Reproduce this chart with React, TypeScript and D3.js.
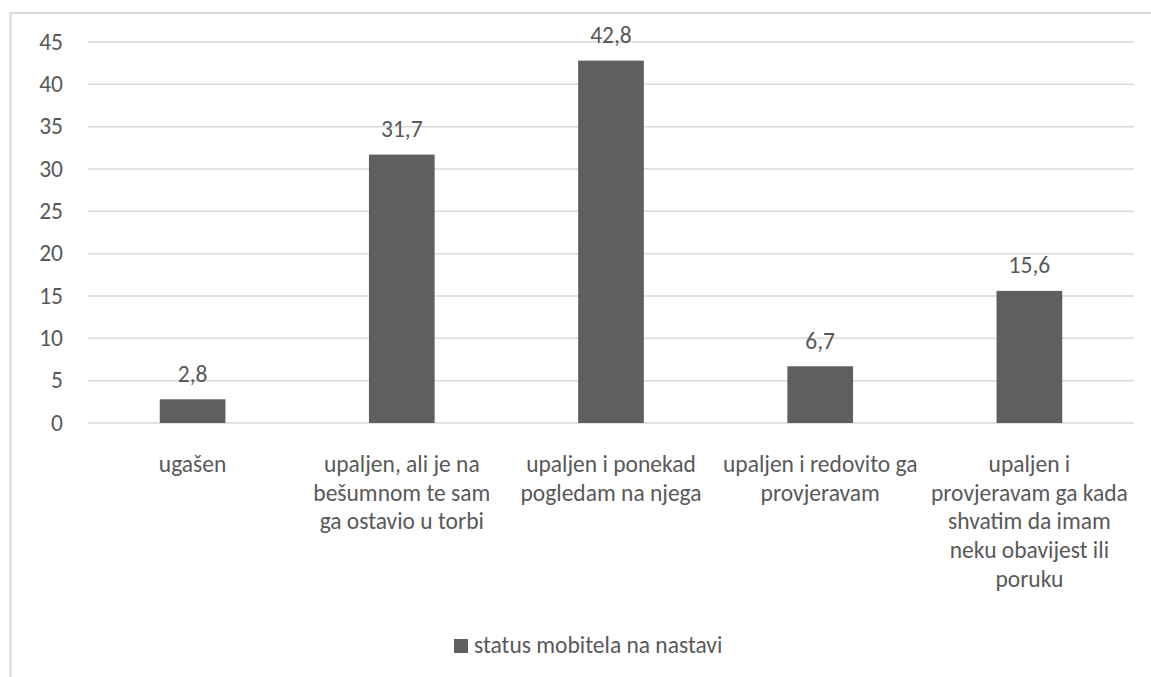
import { useEffect, useRef } from 'react'
import * as d3 from 'd3'

// category labels, already broken into lines as in the original
const categories = [
  ['ugašen'],
  ['upaljen, ali je na', 'bešumnom te sam', 'ga ostavio u torbi'],
  ['upaljen i ponekad', 'pogledam na njega'],
  ['upaljen i redovito ga', 'provjeravam'],
  ['upaljen i', 'provjeravam ga kada', 'shvatim da imam', 'neku obavijest ili', 'poruku'],
]
const values = [2.8, 31.7, 42.8, 6.7, 15.6]
const yTicks = [0, 5, 10, 15, 20, 25, 30, 35, 40, 45]
const seriesName = 'status mobitela na nastavi'

const W = 1151
const H = 677
const FONT = 'Carlito, Calibri, Lato, sans-serif'
const FS = 23.5
const TEXT = '#595959'
const BAR = '#5f5f5f'
const GRID = '#d9d9d9'

export default function App() {
  const svgRef = useRef<SVGSVGElement>(null)

  useEffect(() => {
    if (!svgRef.current) return
    const svg = d3.select(svgRef.current)
    svg.selectAll('*').remove()

    const plot = { left: 88, right: 1134, top: 42, bottom: 423 }
    const keys = categories.map((c) => c.join(' '))

    const x = d3.scaleBand<string>()
      .domain(keys)
      .range([plot.left, plot.right])
      .paddingInner(0.686)
      .paddingOuter(0.343)
    const y = d3.scaleLinear().domain([0, 45]).range([plot.bottom, plot.top])

    // chart frame (runs off the page on right and bottom)
    svg.append('rect')
      .attr('x', 10.5).attr('y', 13)
      .attr('width', 1200).attr('height', 720)
      .attr('fill', 'none')
      .attr('stroke', GRID)
      .attr('stroke-width', 2)

    // gridlines
    svg.append('g')
      .selectAll('line')
      .data(yTicks)
      .join('line')
      .attr('x1', plot.left).attr('x2', plot.right)
      .attr('y1', (d) => y(d)).attr('y2', (d) => y(d))
      .attr('stroke', GRID)
      .attr('stroke-width', 1.5)

    // y labels
    svg.append('g')
      .selectAll('text')
      .data(yTicks)
      .join('text')
      .attr('x', 63)
      .attr('y', (d) => y(d) + 7.5)
      .attr('text-anchor', 'end')
      .attr('fill', TEXT)
      .attr('font-size', FS)
      .attr('font-family', FONT)
      .text((d) => d)

    // bars
    svg.append('g')
      .selectAll('rect')
      .data(values)
      .join('rect')
      .attr('x', (_, i) => x(keys[i]) ?? 0)
      .attr('y', (d) => y(d))
      .attr('width', x.bandwidth())
      .attr('height', (d) => y(0) - y(d))
      .attr('fill', BAR)

    // value labels
    svg.append('g')
      .selectAll('text')
      .data(values)
      .join('text')
      .attr('x', (_, i) => (x(keys[i]) ?? 0) + x.bandwidth() / 2)
      .attr('y', (d) => y(d) - 17.5)
      .attr('text-anchor', 'middle')
      .attr('fill', TEXT)
      .attr('font-size', FS)
      .attr('font-family', FONT)
      .text((d) => d.toFixed(1).replace('.', ','))

    // category labels
    const cat = svg.append('g')
    categories.forEach((lines, i) => {
      const cx = (x(keys[i]) ?? 0) + x.bandwidth() / 2
      const t = cat.append('text')
        .attr('text-anchor', 'middle')
        .attr('fill', TEXT)
        .attr('font-size', FS)
        .attr('font-family', FONT)
      lines.forEach((line, j) => {
        t.append('tspan').attr('x', cx).attr('y', 472 + j * 28.7).text(line)
      })
    })

    // legend
    svg.append('rect')
      .attr('x', 454).attr('y', 639)
      .attr('width', 14).attr('height', 14)
      .attr('fill', BAR)
    svg.append('text')
      .attr('x', 474).attr('y', 653)
      .attr('fill', TEXT)
      .attr('font-size', FS)
      .attr('font-family', FONT)
      .text(seriesName)
  }, [])

  return (
    <>
      <style>{'body{margin:0;background:#fff}'}</style>
      <svg ref={svgRef} width={W} height={H} style={{ display: 'block' }} />
    </>
  )
}
